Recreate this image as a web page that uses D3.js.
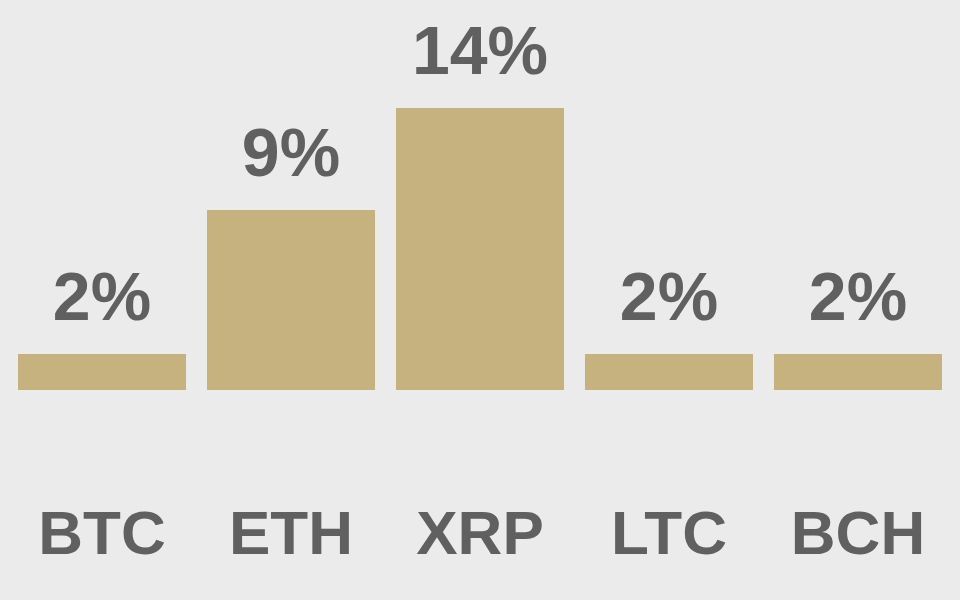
<!DOCTYPE html>
<html><head><meta charset="utf-8">
<script src="https://cdn.jsdelivr.net/npm/d3@7"></script>
<style>html,body{margin:0;padding:0;background:#ebebeb;}svg{display:block;}</style>
</head><body>
<svg id="chart" width="960" height="600"></svg>
<script>
const categories = ["BTC", "ETH", "XRP", "LTC", "BCH"];
const values = [1.8, 9.0, 14.1, 1.8, 1.8];
const valueLabels = ["2%", "9%", "14%", "2%", "2%"];

const W = 960, H = 600;
const svg = d3.select("#chart");
svg.append("rect").attr("width", W).attr("height", H).attr("fill", "#ebebeb");

const x = d3.scaleBand().domain(categories).range([18, 942]).paddingInner(0.111).paddingOuter(0);
const y = d3.scaleLinear().domain([0, 15]).range([390, 90]);

const data = categories.map((c, i) => ({c, v: values[i], label: valueLabels[i]}));

svg.selectAll("rect.bar").data(data).join("rect")
  .attr("class", "bar")
  .attr("x", d => x(d.c)).attr("width", x.bandwidth())
  .attr("y", d => y(d.v)).attr("height", d => y(0) - y(d.v))
  .attr("fill", "#c5b27e");

svg.selectAll("text.val").data(data).join("text")
  .attr("class", "val")
  .attr("x", d => x(d.c) + x.bandwidth() / 2)
  .attr("y", d => y(d.v) - 34)
  .attr("text-anchor", "middle")
  .attr("font-family", "Liberation Sans, Arial, sans-serif")
  .attr("font-weight", "bold").attr("font-size", 68)
  .attr("fill", "#606060")
  .text(d => d.label);

const xAxis = d3.axisBottom(x).tickSize(0).tickPadding(0);
const gx = svg.append("g").attr("transform", "translate(0,554)").call(xAxis);
gx.select(".domain").remove();
gx.selectAll("text")
  .attr("dy", 0).attr("y", 0)
  .attr("font-family", "Liberation Sans, Arial, sans-serif")
  .attr("font-weight", "bold").attr("font-size", 62)
  .attr("fill", "#606060");
</script>
</body></html>
